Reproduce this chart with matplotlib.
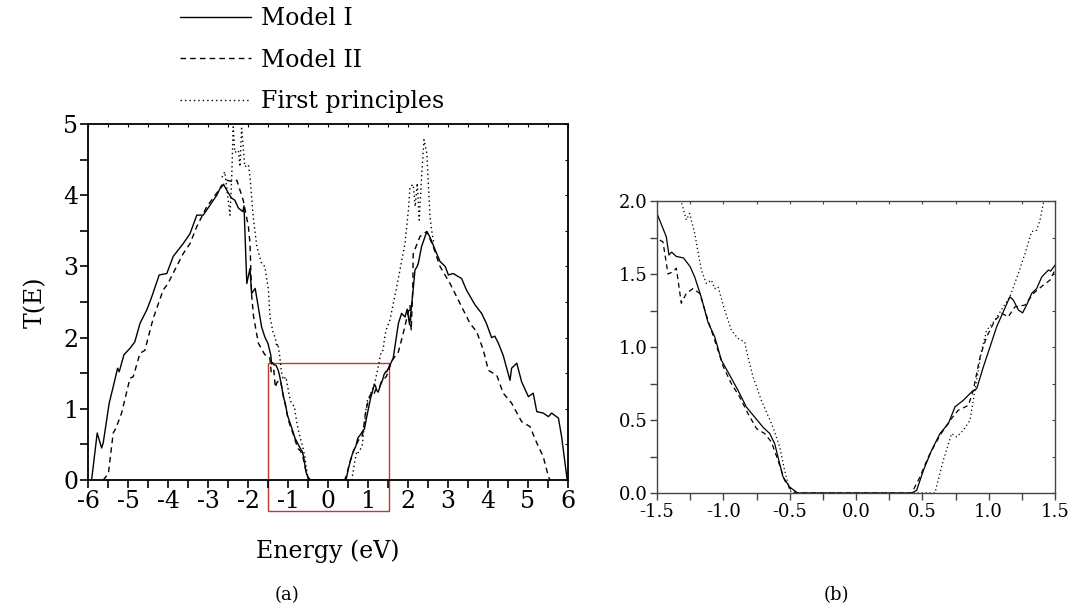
import numpy as np
import matplotlib
matplotlib.use("Agg")
import matplotlib.pyplot as plt
from matplotlib.patches import Rectangle
from matplotlib.ticker import MultipleLocator, FormatStrFormatter

plt.rcParams["font.family"] = ["DejaVu Serif"]
plt.rcParams["axes.unicode_minus"] = False

# Model I (solid)
e_model1 = [-5.91, -5.77, -5.66, -5.62, -5.47, -5.37, -5.26, -5.22, -5.10, -4.95,
            -4.83, -4.70, -4.53, -4.42, -4.22, -4.03, -3.87, -3.62, -3.45, -3.28,
            -3.12, -2.95, -2.78, -2.66, -2.60, -2.49, -2.41, -2.33, -2.24, -2.13,
            -2.10, -2.03, -1.95, -1.91, -1.82, -1.66, -1.58, -1.50, -1.43, -1.41,
            -1.39, -1.354, -1.30, -1.25, -1.216, -1.166, -1.116, -1.065, -1.015, -0.952,
            -0.89, -0.827, -0.764, -0.70, -0.65, -0.613, -0.588, -0.55, -0.50, -0.45,
            -0.437, 0.42, 0.457, 0.508, 0.57, 0.633, 0.696, 0.746, 0.809, 0.872,
            0.91, 0.96, 1.01, 1.06, 1.11, 1.16, 1.186, 1.224, 1.256, 1.286,
            1.324, 1.362, 1.40, 1.45, 1.467, 1.50, 1.63, 1.76, 1.84, 1.925,
            1.98, 2.04, 2.12, 2.175, 2.23, 2.26, 2.34, 2.47, 2.55, 2.68,
            2.80, 2.93, 3.01, 3.13, 3.34, 3.46, 3.675, 3.84, 3.96, 4.09,
            4.17, 4.26, 4.38, 4.55, 4.59, 4.72, 4.84, 5.01, 5.13, 5.22,
            5.38, 5.51, 5.59, 5.76, 5.84, 5.98]
t_model1 = [0.0, 0.66, 0.45, 0.52, 1.08, 1.31, 1.57, 1.52, 1.76, 1.85,
            1.94, 2.20, 2.39, 2.55, 2.88, 2.90, 3.14, 3.32, 3.46, 3.72,
            3.72, 3.86, 4.00, 4.14, 4.14, 4.03, 3.96, 3.93, 3.82, 3.77,
            3.85, 2.76, 2.97, 2.62, 2.69, 2.15, 2.01, 1.915, 1.755, 1.63,
            1.65, 1.62, 1.61, 1.55, 1.48, 1.34, 1.17, 1.07, 0.91, 0.807,
            0.704, 0.59, 0.52, 0.45, 0.407, 0.338, 0.247, 0.11, 0.041, 0.007,
            0.0, 0.0, 0.018, 0.155, 0.293, 0.407, 0.475, 0.59, 0.635, 0.693,
            0.715, 0.864, 1.0, 1.138, 1.241, 1.344, 1.321, 1.253, 1.234, 1.287,
            1.367, 1.40, 1.48, 1.527, 1.52, 1.56, 1.71, 2.20, 2.34, 2.29,
            2.40, 2.18, 2.62, 2.95, 3.00, 3.05, 3.28, 3.49, 3.41, 3.23,
            3.07, 3.00, 2.88, 2.90, 2.83, 2.67, 2.46, 2.34, 2.20, 2.00,
            2.02, 1.92, 1.75, 1.40, 1.57, 1.64, 1.38, 1.17, 1.22, 0.96,
            0.94, 0.89, 0.94, 0.87, 0.61, 0.0]

# Model II (dashed)
e_model2 = [-5.62, -5.49, -5.37, -5.30, -5.16, -4.95, -4.87, -4.70, -4.58, -4.37,
            -4.12, -4.00, -3.83, -3.62, -3.45, -3.28, -3.03, -2.78, -2.53, -2.37,
            -2.28, -2.12, -1.99, -1.95, -1.91, -1.86, -1.74, -1.58, -1.50, -1.455,
            -1.417, -1.38, -1.354, -1.317, -1.279, -1.229, -1.178, -1.116, -1.065, -1.0,
            -0.94, -0.877, -0.814, -0.75, -0.688, -0.638, -0.588, -0.538, -0.487, -0.45,
            0.42, 0.482, 0.545, 0.633, 0.709, 0.771, 0.847, 0.884, 0.935, 0.985,
            1.048, 1.098, 1.148, 1.198, 1.274, 1.337, 1.412, 1.462, 1.50, 1.615,
            1.76, 1.88, 1.96, 2.05, 2.08, 2.12, 2.13, 2.30, 2.47, 2.63,
            2.80, 3.05, 3.22, 3.38, 3.55, 3.72, 3.88, 4.01, 4.22, 4.38,
            4.59, 4.84, 5.05, 5.22, 5.38, 5.51, 5.55]
t_model2 = [0.0, 0.09, 0.66, 0.73, 0.94, 1.43, 1.45, 1.78, 1.82, 2.27,
            2.67, 2.76, 2.95, 3.18, 3.32, 3.56, 3.84, 4.03, 4.21, 4.19,
            4.21, 3.93, 3.56, 3.32, 2.60, 2.29, 1.92, 1.76, 1.744, 1.72,
            1.50, 1.515, 1.54, 1.30, 1.367, 1.40, 1.367, 1.184, 1.047, 0.864,
            0.75, 0.658, 0.544, 0.441, 0.407, 0.35, 0.224, 0.087, 0.018, 0.0,
            0.0, 0.11, 0.247, 0.395, 0.498, 0.567, 0.60, 0.704, 0.933, 1.07,
            1.184, 1.23, 1.207, 1.275, 1.287, 1.367, 1.424, 1.458, 1.527, 1.69,
            1.80, 2.06, 2.25, 2.45, 2.10, 2.72, 3.18, 3.42, 3.49, 3.28,
            3.00, 2.76, 2.57, 2.39, 2.20, 2.08, 1.83, 1.54, 1.47, 1.22,
            1.08, 0.82, 0.75, 0.52, 0.33, 0.05, 0.0]

# First principles (dotted)
e_first = [-2.65, -2.58, -2.45, -2.41, -2.37, -2.33, -2.24, -2.20, -2.16, -2.12,
           -2.08, -1.99, -1.95, -1.87, -1.78, -1.66, -1.58, -1.49, -1.45, -1.37,
           -1.317, -1.279, -1.254, -1.216, -1.166, -1.128, -1.09, -1.065, -1.04, -0.99,
           -0.94, -0.89, -0.839, -0.827, -0.776, -0.714, -0.626, -0.575, -0.538, -0.50,
           -0.475, 0.595, 0.658, 0.721, 0.759, 0.809, 0.859, 0.897, 0.947, 0.985,
           1.048, 1.11, 1.16, 1.224, 1.274, 1.324, 1.362, 1.387, 1.412, 1.45,
           1.55, 1.72, 1.925, 2.01, 2.05, 2.13, 2.18, 2.23, 2.28, 2.34,
           2.40, 2.47, 2.55, 2.59, 2.65]
t_first = [4.25, 4.33, 3.72, 4.20, 4.96, 4.60, 4.63, 4.40, 4.94, 4.68,
           4.40, 4.43, 4.26, 3.70, 3.28, 3.04, 3.00, 2.67, 2.29, 2.06,
           1.995, 1.87, 1.915, 1.78, 1.527, 1.435, 1.458, 1.40, 1.413, 1.253,
           1.115, 1.058, 1.035, 0.978, 0.795, 0.635, 0.452, 0.315, 0.155, 0.018,
           0.0, 0.0, 0.224, 0.407, 0.384, 0.43, 0.498, 0.704, 0.978, 1.115,
           1.184, 1.275, 1.344, 1.504, 1.64, 1.79, 1.80, 1.87, 1.984, 2.10,
           2.25, 2.72, 3.32, 3.79, 4.12, 4.15, 3.84, 4.17, 3.65, 4.26,
           4.78, 4.59, 3.70, 3.51, 3.32]

labels = ["Model I", "Model II", "First principles"]

fig = plt.figure(figsize=(10.72, 6.05), dpi=100)
ax1 = fig.add_axes([88 / 1072, 125 / 605, 480 / 1072, 356 / 605])
ax2 = fig.add_axes([657 / 1072, 112 / 605, 398 / 1072, 292 / 605])


def draw_curves(ax, lw):
    l1, = ax.plot(e_model1, t_model1, color="black", lw=lw, ls="-")
    l2, = ax.plot(e_model2, t_model2, color="black", lw=lw, ls=(0, (4, 3)))
    l3, = ax.plot(e_first, t_first, color="black", lw=lw, ls=(0, (1, 2.2)))
    return [l1, l2, l3]


def mirror_ticks(ax, xstep, ystep, color):
    top = ax.secondary_xaxis("top")
    top.xaxis.set_major_locator(MultipleLocator(xstep))
    top.tick_params(direction="in", length=2.5, width=0.8, color=color, labeltop=False)
    top.spines["top"].set_visible(False)
    right = ax.secondary_yaxis("right")
    right.yaxis.set_major_locator(MultipleLocator(ystep))
    right.tick_params(direction="in", length=2.5, width=0.8, color=color, labelright=False)
    right.spines["right"].set_visible(False)


# panel (a)
lines = draw_curves(ax1, 1.0)
ax1.set_xlim(-6, 6)
ax1.set_ylim(0, 5)
ax1.xaxis.set_major_locator(MultipleLocator(1))
ax1.xaxis.set_minor_locator(MultipleLocator(0.5))
ax1.yaxis.set_major_locator(MultipleLocator(1))
ax1.yaxis.set_minor_locator(MultipleLocator(0.5))
ax1.tick_params(which="both", direction="out", length=6, width=1.2, labelsize=17, pad=1)
for s in ax1.spines.values():
    s.set_linewidth(1.3)
mirror_ticks(ax1, 0.5, 0.5, "black")
ax1.set_xlabel("Energy (eV)", fontsize=17, labelpad=19)
ax1.set_ylabel("T(E)", fontsize=17, labelpad=12)
ax1.add_patch(Rectangle((-1.5, -0.44), 3.02, 2.09, fill=False,
                        edgecolor="#c0392b", lw=1.0, clip_on=False))

# panel (b)
draw_curves(ax2, 0.9)
ax2.set_xlim(-1.5, 1.5)
ax2.set_ylim(0, 2)
ax2.xaxis.set_major_locator(MultipleLocator(0.5))
ax2.xaxis.set_minor_locator(MultipleLocator(0.25))
ax2.yaxis.set_major_locator(MultipleLocator(0.5))
ax2.yaxis.set_minor_locator(MultipleLocator(0.25))
ax2.xaxis.set_major_formatter(FormatStrFormatter("%.1f"))
ax2.yaxis.set_major_formatter(FormatStrFormatter("%.1f"))
ax2.tick_params(which="both", direction="out", length=5, width=1.0, color="#444444",
                labelsize=13, pad=2)
for s in ax2.spines.values():
    s.set_linewidth(1.0)
    s.set_color("#444444")
mirror_ticks(ax2, 0.25, 0.25, "#444444")

fig.legend(lines, labels, loc="upper left", bbox_to_anchor=(180 / 1072, 0.988),
           frameon=False, fontsize=17, handlelength=3.0, handletextpad=0.45,
           labelspacing=0.78, borderpad=0, borderaxespad=0)

fig.text(287 / 1072, 0.016, "(a)", fontsize=13, ha="center", va="center")
fig.text(836 / 1072, 0.016, "(b)", fontsize=13, ha="center", va="center")

fig.savefig("out.png", dpi=100)
